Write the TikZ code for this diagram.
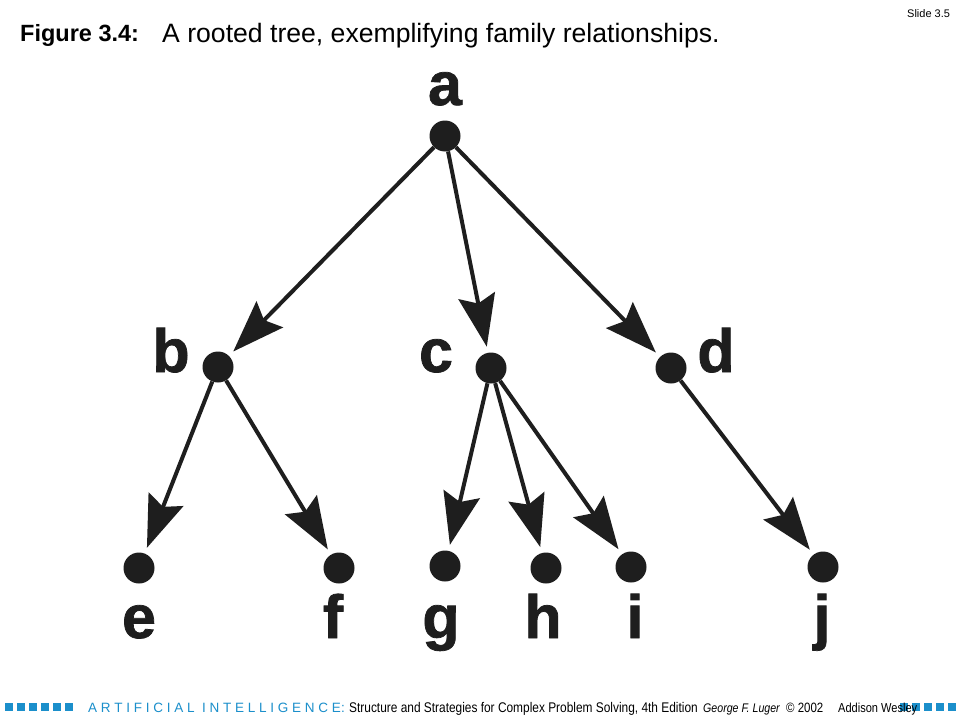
\documentclass[tikz,border=0pt]{standalone}
\usepackage{fontspec}
\setmainfont{Liberation Sans}
\newfontfamily\narrowfont{Liberation Sans}[FakeStretch=0.85]
\newfontfamily\heavyfont{Liberation Sans}[UprightFont=*-Bold,FakeBold=1.2]
\usetikzlibrary{arrows.meta}
\definecolor{aiblue}{HTML}{1B8FCB}
\definecolor{ink}{HTML}{1E1E1E}
\begin{document}
\begin{tikzpicture}[x=1pt,y=-1pt,
  dot/.style={circle,fill=ink,inner sep=0pt,minimum size=31pt},
  lbl/.style={font=\heavyfont\fontsize{61}{61}\selectfont,text=ink,anchor=base,inner sep=0pt},
  treeedge/.style={draw=ink,line width=4pt,-{Stealth[length=52pt,width=37pt,inset=8pt]},shorten >=6pt},
  sq/.style={fill=aiblue,minimum size=8pt,inner sep=0pt},
  foot/.style={anchor=base west,inner sep=0pt}]
\useasboundingbox (0,0) rectangle (960,720);
\fill[white] (0,0) rectangle (960,720);

% header
\node[foot,font=\fontsize{23.5}{24}\selectfont\bfseries] (fig) at (20,41) {Figure 3.4:};
\node[foot,font=\fontsize{26.6}{27}\selectfont] (title) at (162,42) {A rooted tree, exemplifying family relationships.};
\node[foot,font=\fontsize{11}{12}\selectfont] (slide) at (907,17) {Slide 3.5};

% tree nodes
\node[dot] (a) at (445,136) {};
\node[dot] (b) at (218,367) {};
\node[dot] (c) at (491,368) {};
\node[dot] (d) at (671,368) {};
\node[dot] (e) at (139,568) {};
\node[dot] (f) at (339,568) {};
\node[dot] (g) at (445,566) {};
\node[dot] (h) at (546,568) {};
\node[dot] (i) at (631,567) {};
\node[dot] (j) at (823,567) {};

% labels
\node[lbl] (la) at (445,105) {a};
\node[lbl] (lb) at (171,372) {b};
\node[lbl] (lc) at (436,372) {c};
\node[lbl] (ld) at (716,372) {d};
\node[lbl] (le) at (139,638) {e};
\node[lbl] (lf) at (333,638) {f};
\node[lbl] (lg) at (441,638) {g};
\node[lbl] (lh) at (543,638) {h};
\node[lbl] (li) at (635,638) {i};
\node[lbl] (lj) at (822,638) {j};

% edges
\draw[treeedge] (a) -- (b);
\draw[treeedge] (a) -- (c);
\draw[treeedge] (a) -- (d);
\draw[treeedge] (b) -- (e);
\draw[treeedge] (b) -- (f);
\draw[treeedge] (c) -- (g);
\draw[treeedge] (c) -- (h);
\draw[treeedge] (c) -- (i);
\draw[treeedge] (d) -- (j);

% footer squares
\foreach \k/\xx in {1/9,2/21,3/33,4/45,5/57,6/69,7/904,8/916,9/928,10/940,11/952}
  \node[sq] (sq\k) at (\xx,707) {};

% footer text
\node[foot,font=\fontsize{13.5}{14}\selectfont,text=aiblue] (ftai) at (88,712)
  {A R T I F I C I A L\ \ I N T E L L I G E N C E:};
\node[foot,font=\narrowfont\fontsize{14}{14}\selectfont] (ftbook) at (349,712)
  {Structure and Strategies for Complex Problem Solving, 4th Edition};
\node[foot,font=\narrowfont\itshape\fontsize{12.5}{13}\selectfont] (ftauth) at (703,712) {George F. Luger};
\node[foot,font=\narrowfont\fontsize{13.5}{14}\selectfont] (ftcopy) at (786,712) {\textcopyright\ 2002};
\node[foot,font=\narrowfont\fontsize{13}{14}\selectfont] (ftpub) at (838,712) {Addison Wesley};
\end{tikzpicture}
\end{document}
